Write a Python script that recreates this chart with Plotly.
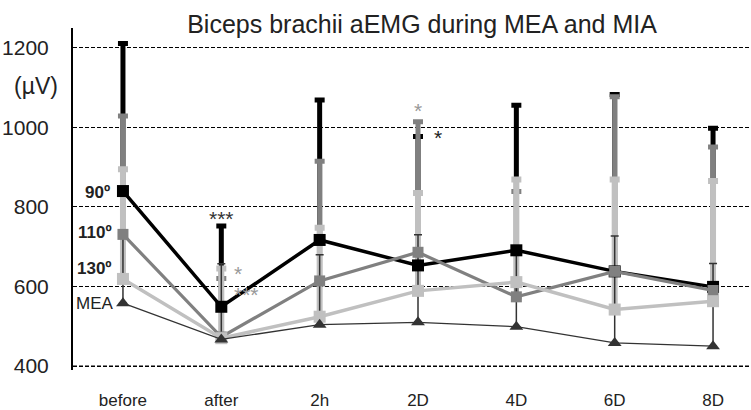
import plotly.graph_objects as go

# Time points of the protocol
categories = ["before", "after", "2h", "2D", "4D", "6D", "8D"]

# Mean aEMG (µV) for each elbow angle during MIA, and MEA
mia_90 = [840, 549, 717, 653, 691, 638, 599]
mia_110 = [731, 473, 614, 686, 574, 638, 590]
mia_130 = [619, 470, 524, 589, 611, 542, 563]
mea = [558, 467, 504, 510, 499, 458, 450]

# Upper end of the SD bars (mean + SD)
top_90 = [1211, 752, 1069, 977, 1056, 1083, 998]
top_110 = [1029, 620, 915, 1014, 839, 1077, 951]
top_130 = [895, 645, 748, 835, 869, 869, 865]
top_mea = [728, 657, 680, 730, 690, 727, 658]

y_ticks = [400, 600, 800, 1000, 1200]

FONT = "Liberation Sans, Arial, sans-serif"

series = [
    # name, means, tops, colour, line width, marker symbol, marker size, bar thickness, cap half-width
    ("90º", mia_90, top_90, "#000000", 3.5, "square", 12, 5, 5),
    ("110º", mia_110, top_110, "#808080", 3.2, "square", 11, 5, 5),
    ("130º", mia_130, top_130, "#c0c0c0", 3.5, "square", 12, 6, 5),
    ("MEA", mea, top_mea, "#333333", 1.3, "triangle-up", 12, 1.5, 4),
]

fig = go.Figure()

# SD bars first, so every line and marker sits on top of them
for name, means, tops, colour, lw, sym, ms, thick, capw in series:
    plus = [t - m for t, m in zip(tops, means)]
    fig.add_trace(go.Scatter(
        x=categories, y=means, mode="markers",
        marker=dict(size=1, color="rgba(0,0,0,0)"),
        error_y=dict(type="data", symmetric=False, array=plus,
                     arrayminus=[0] * len(means), color=colour,
                     thickness=thick, width=capw),
        hoverinfo="skip", showlegend=False,
    ))

# Mean lines with markers
for name, means, tops, colour, lw, sym, ms, thick, capw in series:
    fig.add_trace(go.Scatter(
        x=categories, y=means, mode="lines+markers", name=name,
        line=dict(color=colour, width=lw),
        marker=dict(symbol=sym, size=ms, color=colour, line=dict(width=0)),
        showlegend=False,
    ))

annotations = []

# Series labels beside the first time point
label_shift = {"90º": (-11, -1), "110º": (-9, 2), "130º": (-9, 10), "MEA": (-7, 0)}
for name, means, *_ in series:
    dx, dy = label_shift[name]
    annotations.append(dict(
        x=categories[0], y=means[0], xref="x", yref="y", text=name,
        showarrow=False, xanchor="right", yanchor="middle",
        xshift=dx, yshift=dy,
        font=dict(family=FONT, size=17, color="#222222",
                  weight="normal" if name == "MEA" else "bold"),
    ))

# Significance marks
stars = [
    ("***", categories[1], top_90[1] + 30, 0, -4, "#333333"),
    ("*", categories[1], top_130[1] - 12, 17, 0, "#999999"),
    ("***", categories[1], top_110[1] - 25, 25, -6, "#999999"),
    ("*", categories[3], top_110[3] + 34, 0, -2, "#999999"),
    ("*", categories[3], top_90[3] + 5, 20, -3, "#222222"),
]
for txt, cx, cy, dx, dy, col in stars:
    annotations.append(dict(
        x=cx, y=cy, xref="x", yref="y", text=txt, showarrow=False,
        xanchor="center", yanchor="middle", xshift=dx, yshift=dy,
        font=dict(family=FONT, size=21, color=col),
    ))

# Unit label under the top tick
annotations.append(dict(
    x=0, y=1105, xref="paper", yref="y", text="(µV)", showarrow=False,
    xanchor="center", yanchor="middle", xshift=-37,
    font=dict(family=FONT, size=23, color="#222222"),
))

# Dashed line along the lowest tick
shapes = [dict(
    type="line", xref="paper", x0=0, x1=1, yref="y", y0=y_ticks[0], y1=y_ticks[0],
    line=dict(color="#000000", width=1.2, dash="4px,2px"), layer="above",
)]

fig.update_layout(
    width=751, height=410,
    margin=dict(l=73, r=0, t=28, b=36),
    paper_bgcolor="white", plot_bgcolor="white",
    title=dict(text="Biceps brachii aEMG during MEA and MIA",
               x=422 / 751, xanchor="center", y=1 - 24 / 410, yanchor="middle",
               font=dict(family=FONT, size=25, color="#222222")),
    font=dict(family=FONT, color="#222222"),
    annotations=annotations,
    shapes=shapes,
    showlegend=False,
)

fig.update_xaxes(
    type="category", categoryorder="array", categoryarray=categories,
    range=[-0.508, 6.386], showgrid=False, showline=False, zeroline=False,
    ticks="", ticklabelstandoff=18,
    tickfont=dict(family=FONT, size=17, color="#222222"),
)

fig.update_yaxes(
    range=[390, 1250], tickvals=y_ticks, ticktext=[str(v) for v in y_ticks],
    showgrid=True, gridcolor="#000000", gridwidth=1, griddash="4px,2px",
    showline=True, linecolor="#000000", linewidth=2, zeroline=False,
    ticks="", ticklabelstandoff=18,
    tickfont=dict(family=FONT, size=21, color="#222222"),
)

fig.write_html("out.html")
